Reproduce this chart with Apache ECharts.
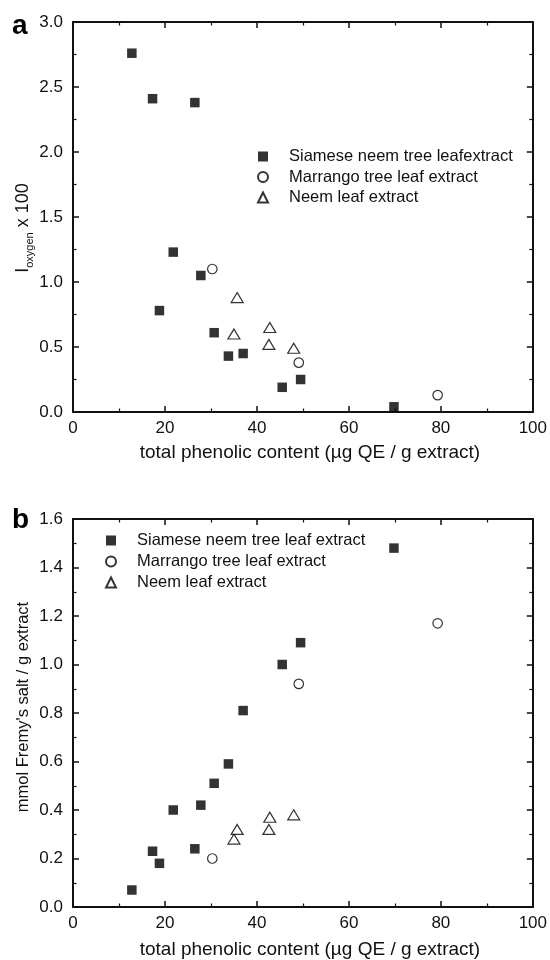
<!DOCTYPE html>
<html>
<head>
<meta charset="utf-8">
<script src="https://cdn.jsdelivr.net/npm/echarts@6/dist/echarts.min.js"></script>
<style>
  html, body { margin: 0; padding: 0; background: #fff; }
  #chart { width: 550px; height: 960px; }
</style>
</head>
<body>
<div id="chart"></div>
<script>
// Total phenolic content (µg QE / g extract) of each extract
const siameseX  = [12.8, 17.3, 18.8, 21.8, 26.5, 27.8, 30.7, 33.8, 37.0, 45.5, 49.5, 69.8];
const marrangoX = [30.3, 49.1, 79.3];
const neemX     = [35.0, 35.7, 42.6, 42.8, 48.0];

// Panel a: I_oxygen x 100
const siameseOxygen  = [2.76, 2.41, 0.78, 1.23, 2.38, 1.05, 0.61, 0.43, 0.45, 0.19, 0.25, 0.04];
const marrangoOxygen = [1.10, 0.38, 0.13];
const neemOxygen     = [0.60, 0.88, 0.52, 0.65, 0.49];

// Panel b: mmol Fremy's salt / g extract
const siameseFremy  = [0.07, 0.23, 0.18, 0.40, 0.24, 0.42, 0.51, 0.59, 0.81, 1.00, 1.09, 1.48];
const marrangoFremy = [0.20, 0.92, 1.17];
const neemFremy     = [0.28, 0.32, 0.32, 0.37, 0.38];

const namesA = ['Siamese neem tree leafextract', 'Marrango tree leaf extract', 'Neem leaf extract'];
const namesB = ['Siamese neem tree leaf extract', 'Marrango tree leaf extract', 'Neem leaf extract'];

const xLabelA = 'total phenolic content (\u00b5g QE / g extract)';
const xLabelB = 'total phenolic content (\u00b5g QE / g extract)';
const yLabelB = "mmol Fremy's salt / g extract";

const FONT = '"Liberation Sans", Arial, Helvetica, sans-serif';
const INK = '#111';

function pairs(xs, ys) { return xs.map((x, i) => [x, ys[i]]); }

function valueAxis(gridIndex, position, max, interval, showLabels, extra) {
  return Object.assign({
    type: 'value', gridIndex: gridIndex, position: position,
    min: 0, max: max, interval: interval,
    axisLine: { show: true, onZero: false, lineStyle: { color: INK, width: 2 } },
    axisTick: { show: true, inside: true, length: 6, lineStyle: { color: INK, width: 1.5 } },
    minorTick: { show: true, splitNumber: 2, length: 3.5, lineStyle: { color: INK, width: 1.2 } },
    splitLine: { show: false },
    minorSplitLine: { show: false },
    axisLabel: {
      show: showLabels, color: INK, fontFamily: FONT, fontSize: 17,
      margin: position === 'left' ? 10 : 8
    }
  }, extra || {});
}

const squareStyle = { color: '#000', borderWidth: 0 };
const circleStyle = { color: '#fff', borderColor: '#000', borderWidth: 1.2 };
const triStyle = { color: '#fff', borderColor: '#000', borderWidth: 1.2 };

function scatter(name, xi, yi, data, symbol, size, style) {
  return {
    type: 'scatter', name: name, xAxisIndex: xi, yAxisIndex: yi,
    data: data, symbol: symbol, symbolSize: size, itemStyle: style,
    emphasis: { disabled: true }, animation: false
  };
}

const legendText = { color: INK, fontFamily: FONT, fontSize: 16.5, lineHeight: 16, padding: [0, 0, 0, 16] };
// x titles sit slightly right of the plot centre
const xNameStyle = { color: INK, fontFamily: FONT, fontSize: 19, padding: [0, 0, 0, 14] };
const yLabelFmt = { show: true, color: INK, fontFamily: FONT, fontSize: 17, margin: 10, formatter: v => v.toFixed(1) };

const option = {
  backgroundColor: '#fff',
  animation: false,
  grid: [
    { left: 73, top: 22, width: 460, height: 390 },
    { left: 73, top: 519, width: 460, height: 389 }
  ],
  xAxis: [
    valueAxis(0, 'bottom', 100, 20, true, {
      name: xLabelA, nameLocation: 'middle', nameGap: 31, nameTextStyle: xNameStyle
    }),
    valueAxis(0, 'top', 100, 20, false),
    valueAxis(1, 'bottom', 100, 20, true, {
      name: xLabelB, nameLocation: 'middle', nameGap: 33, nameTextStyle: xNameStyle
    }),
    valueAxis(1, 'top', 100, 20, false)
  ],
  yAxis: [
    valueAxis(0, 'left', 3.0, 0.5, true, { axisLabel: yLabelFmt }),
    valueAxis(0, 'right', 3.0, 0.5, false),
    valueAxis(1, 'left', 1.6, 0.2, true, { axisLabel: yLabelFmt }),
    valueAxis(1, 'right', 1.6, 0.2, false)
  ],
  legend: [
    {
      data: namesA, orient: 'vertical', left: 257, top: 148, padding: 0,
      itemWidth: 10, itemHeight: 10, itemGap: 3.5, selectedMode: false,
      textStyle: legendText
    },
    {
      data: namesB, orient: 'vertical', left: 105, top: 532, padding: 0,
      itemWidth: 10, itemHeight: 10, itemGap: 4, selectedMode: false,
      textStyle: legendText
    }
  ],
  series: [
    scatter(namesA[0], 0, 0, pairs(siameseX, siameseOxygen), 'rect', 9.5, squareStyle),
    scatter(namesA[1], 0, 0, pairs(marrangoX, marrangoOxygen), 'circle', 9.5, circleStyle),
    scatter(namesA[2], 0, 0, pairs(neemX, neemOxygen), 'triangle', [12, 10], triStyle),
    scatter(namesB[0], 2, 2, pairs(siameseX, siameseFremy), 'rect', 9.5, squareStyle),
    scatter(namesB[1], 2, 2, pairs(marrangoX, marrangoFremy), 'circle', 9.5, circleStyle),
    scatter(namesB[2], 2, 2, pairs(neemX, neemFremy), 'triangle', [12, 10], triStyle)
  ],
  graphic: [
    { type: 'text', left: 12, top: 12, style: { text: 'a', font: 'bold 28px ' + FONT, fill: '#000' } },
    { type: 'text', left: 12, top: 506, style: { text: 'b', font: 'bold 28px ' + FONT, fill: '#000' } },
    {
      type: 'text', x: 23, y: 228, rotation: Math.PI / 2,
      style: {
        text: '{m|I}{s|oxygen}{m| x 100}',
        align: 'center', verticalAlign: 'middle',
        rich: {
          m: { fontFamily: FONT, fontSize: 18, fill: INK, lineHeight: 24, verticalAlign: 'middle' },
          s: { fontFamily: FONT, fontSize: 11, fill: INK, lineHeight: 24, verticalAlign: 'bottom' }
        }
      }
    },
    {
      type: 'text', x: 23, y: 707, rotation: Math.PI / 2,
      style: { text: yLabelB, font: '16.5px ' + FONT, fill: INK, align: 'center', verticalAlign: 'middle' }
    }
  ]
};

const chart = echarts.init(document.getElementById('chart'), null, { renderer: 'canvas' });
chart.setOption(option);
</script>
</body>
</html>
